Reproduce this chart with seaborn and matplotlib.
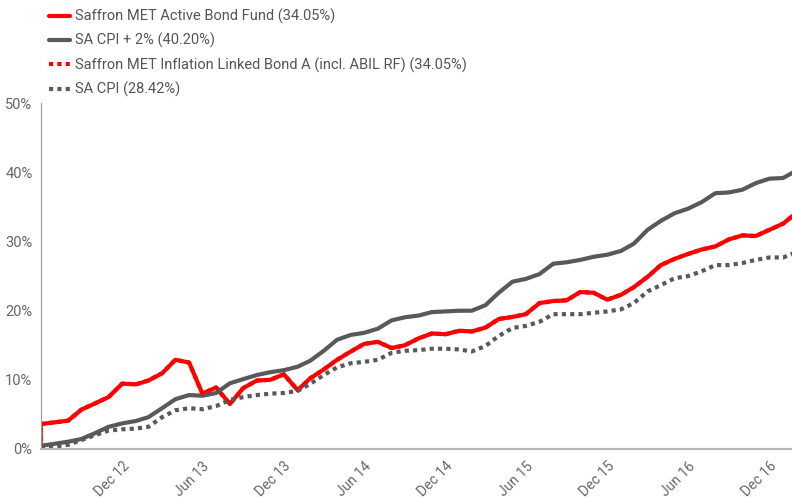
import pandas as pd
import numpy as np
import matplotlib
matplotlib.use('Agg')
import matplotlib.pyplot as plt
import matplotlib.dates as mdates
from matplotlib.ticker import FuncFormatter
import seaborn as sns

# monthly cumulative returns (%), month ends Jun 2012 - Feb 2017
dates = pd.date_range('2012-06-30', '2017-02-28', freq='ME')

fund_start = 0.0
fund = [3.6, 3.85, 4.1, 5.7, 6.6, 7.5, 9.45, 9.35, 9.9, 10.95,
        12.9, 12.5, 8.0, 8.9, 6.5, 8.8, 9.9, 10.0, 10.8, 8.5,
        10.2, 11.5, 12.9, 14.1, 15.2, 15.5, 14.6, 15.0, 16.0, 16.7,
        16.6, 17.1, 17.0, 17.55, 18.8, 19.1, 19.5, 21.1, 21.4, 21.5,
        22.7, 22.6, 21.6, 22.3, 23.4, 24.9, 26.6, 27.5, 28.2, 28.85,
        29.3, 30.3, 30.9, 30.8, 31.7, 32.6, 34.05]

cpi_plus2 = [0.45, 0.75, 1.05, 1.45, 2.3, 3.2, 3.7, 4.05, 4.6, 5.9,
             7.2, 7.8, 7.7, 8.1, 9.5, 10.1, 10.7, 11.1, 11.4, 11.9,
             12.75, 14.2, 15.8, 16.5, 16.8, 17.4, 18.6, 19.05, 19.3, 19.8,
             19.9, 20.0, 20.0, 20.8, 22.6, 24.2, 24.6, 25.3, 26.8, 27.0,
             27.35, 27.8, 28.1, 28.65, 29.7, 31.7, 33.0, 34.1, 34.75, 35.7,
             37.0, 37.1, 37.5, 38.45, 39.1, 39.2, 40.2]

# inflation linked bond tracks the active bond fund (hidden underneath)
ilb = list(fund)

cpi = [0.1, 0.35, 0.6, 1.3, 2.0, 2.65, 2.85, 2.95, 3.2, 4.6,
       5.6, 5.9, 5.75, 6.2, 7.1, 7.5, 7.8, 8.0, 8.1, 8.4,
       9.4, 10.7, 11.8, 12.4, 12.6, 12.9, 13.9, 14.2, 14.3, 14.5,
       14.5, 14.4, 14.1, 14.9, 16.35, 17.5, 17.8, 18.4, 19.5, 19.5,
       19.5, 19.7, 19.9, 20.2, 21.1, 22.8, 23.7, 24.7, 25.0, 25.7,
       26.6, 26.6, 26.9, 27.35, 27.7, 27.7, 28.42]

labels = ['Saffron MET Active Bond Fund (34.05%)',
          'SA CPI + 2% (40.20%)',
          'Saffron MET Inflation Linked Bond A (incl. ABIL RF) (34.05%)',
          'SA CPI (28.42%)']

tick_dates = pd.date_range('2012-12-31', '2016-12-31', freq='6ME')

RED = '#ff0000'
GREY = '#595959'

sns.set_style('white')
plt.rcParams['font.family'] = ['Roboto', 'DejaVu Sans']

fig = plt.figure(figsize=(7.92, 5.03), dpi=100)
ax = fig.add_axes([0.0514, 0.1074, 0.9486, 0.6872])

fund_x = [dates[0]] + list(dates)
fund_y = [fund_start] + fund

sns.lineplot(x=fund_x, y=fund_y, ax=ax, color=RED, linewidth=3,
             estimator=None, sort=False, label=labels[0])
sns.lineplot(x=dates, y=cpi_plus2, ax=ax, color=GREY, linewidth=3,
             estimator=None, label=labels[1])
sns.lineplot(x=fund_x, y=[fund_start] + ilb, ax=ax, color=RED, linewidth=3,
             linestyle=(0, (1, 1)), estimator=None, sort=False, label=labels[2])
sns.lineplot(x=dates, y=cpi, ax=ax, color=GREY, linewidth=3,
             linestyle=(0, (1, 1)), estimator=None, label=labels[3])

ax.set_xlim(dates[0], pd.Timestamp('2017-02-20'))
ax.set_ylim(0, 50)
ax.set_yticks(np.arange(0, 51, 10))
ax.yaxis.set_major_formatter(FuncFormatter(lambda v, p: f'{v:.0f}%'))
ax.set_xticks(tick_dates)
ax.xaxis.set_major_formatter(mdates.DateFormatter('%b %y'))
plt.setp(ax.get_xticklabels(), rotation=45, ha='right', rotation_mode='anchor')

for s in ['top', 'right']:
    ax.spines[s].set_visible(False)
ax.spines['left'].set_color('#9a9a9a')
ax.spines['bottom'].set_color('#b5b5b5')
ax.spines['bottom'].set_linewidth(1.5)
ax.tick_params(axis='both', colors='#9a9a9a', labelcolor='#666666',
               length=4, width=1, labelsize=10)
ax.tick_params(axis='y', labelsize=10.5, pad=2)
ax.set_xlabel('')
ax.set_ylabel('')

handles, lbls = ax.get_legend_handles_labels()
ax.get_legend().remove()
fig.legend(handles, lbls, loc='upper left', bbox_to_anchor=(0.051, 1.0),
           frameon=False, fontsize=10.5, handlelength=1.4, handletextpad=0.35,
           labelspacing=0.62, borderaxespad=0.2, labelcolor='#555555')

fig.savefig('out.png', dpi=100)
plt.close(fig)
